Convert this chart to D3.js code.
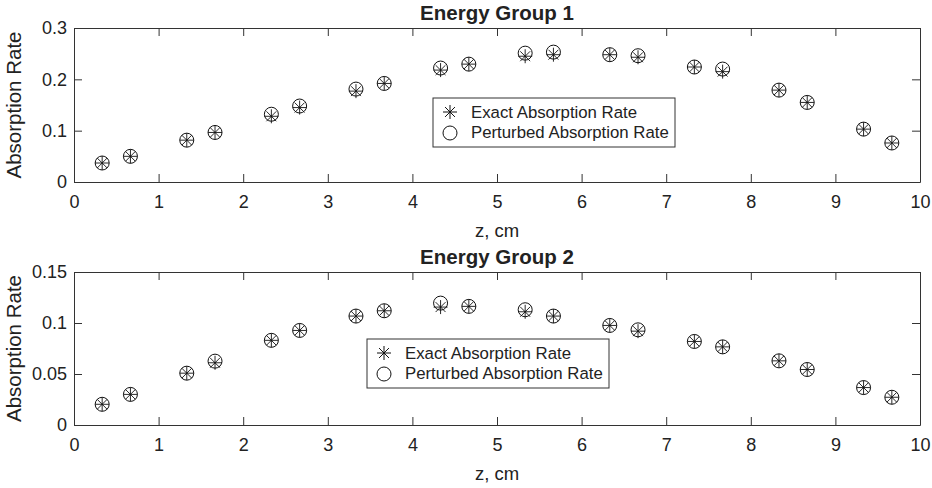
<!DOCTYPE html>
<html>
<head>
<meta charset="utf-8">
<script src="https://cdn.jsdelivr.net/npm/d3@7"></script>
<style>
  body { margin: 0; background: #fff; }
  text { font-family: "Liberation Sans", Arial, sans-serif; fill: #222; }
</style>
</head>
<body>
<script>
var width = 932, height = 488

// cell centres along z
var zPos = [0.333, 0.667, 1.333, 1.667, 2.333, 2.667, 3.333, 3.667, 4.333, 4.667,
            5.333, 5.667, 6.333, 6.667, 7.333, 7.667, 8.333, 8.667, 9.333, 9.667]

// group 1
var exact1 = [0.037, 0.050, 0.0815, 0.0965, 0.128, 0.145, 0.177, 0.192, 0.218, 0.2296,
              0.245, 0.248, 0.248, 0.243, 0.224, 0.215, 0.179, 0.155, 0.103, 0.076]
var pert1  = [0.037, 0.050, 0.0815, 0.0965, 0.132, 0.148, 0.181, 0.192, 0.222, 0.2296,
              0.251, 0.253, 0.248, 0.246, 0.224, 0.220, 0.179, 0.155, 0.103, 0.076]

// group 2
var exact2 = [0.0203, 0.030, 0.0508, 0.061, 0.083, 0.0927, 0.1068, 0.112, 0.1156, 0.1163,
              0.111, 0.1068, 0.0976, 0.092, 0.0819, 0.0766, 0.0629, 0.0544, 0.0367, 0.0272]
var pert2  = [0.0203, 0.030, 0.0508, 0.0626, 0.083, 0.0927, 0.1068, 0.112, 0.1195, 0.1163,
              0.113, 0.1068, 0.0976, 0.0933, 0.0819, 0.0766, 0.0629, 0.0544, 0.0367, 0.0272]

var xTicks = [0, 1, 2, 3, 4, 5, 6, 7, 8, 9, 10]
var yTicks1 = [0, 0.1, 0.2, 0.3]
var yTicks2 = [0, 0.05, 0.1, 0.15]
var legendLabels = ["Exact Absorption Rate", "Perturbed Absorption Rate"]

var svg = d3.select("body").append("svg")
  .attr("width", width)
  .attr("height", height)

var left = 74, right = 920

function panel(opts) {
  var x = d3.scaleLinear().domain([0, 10]).range([left, right])
  var y = d3.scaleLinear().domain(opts.yDomain).range([opts.bottom, opts.top])
  var g = svg.append("g")

  // axes box with ticks inside on all four sides
  g.append("g").attr("transform", "translate(0," + opts.bottom + ")")
    .call(d3.axisBottom(x).tickValues(xTicks).tickSizeInner(-8).tickSizeOuter(0).tickPadding(13).tickFormat(d3.format("d")))
  g.append("g").attr("transform", "translate(0," + opts.top + ")")
    .call(d3.axisTop(x).tickValues(xTicks).tickSizeInner(-8).tickSizeOuter(0).tickFormat(""))
  g.append("g").attr("transform", "translate(" + left + ",0)")
    .call(d3.axisLeft(y).tickValues(opts.yTicks).tickSizeInner(-8).tickSizeOuter(0).tickPadding(7).tickFormat(function(d) { return String(+d.toFixed(2)) }))
  g.append("g").attr("transform", "translate(" + right + ",0)")
    .call(d3.axisRight(y).tickValues(opts.yTicks).tickSizeInner(-8).tickSizeOuter(0).tickFormat(""))

  g.selectAll(".domain").attr("stroke", "#333").attr("stroke-width", 1)
  g.selectAll(".tick line").attr("stroke", "#333").attr("stroke-width", 1)
  g.selectAll(".tick text").style("font-size", "18px").attr("fill", "#222")

  // titles
  g.append("text").attr("x", (left + right) / 2).attr("y", opts.top - 8)
    .attr("text-anchor", "middle").style("font-size", "20.5px").style("font-weight", "bold")
    .text(opts.title)
  g.append("text").attr("x", (left + right) / 2).attr("y", opts.bottom + 55)
    .attr("text-anchor", "middle").style("font-size", "18.5px").text("z, cm")
  g.append("text")
    .attr("transform", "translate(21," + ((opts.top + opts.bottom) / 2) + ") rotate(-90)")
    .attr("text-anchor", "middle").style("font-size", "20.5px").text("Absorption Rate")

  // markers: circles (perturbed) then asterisks (exact)
  g.append("g").selectAll("circle")
    .data(opts.pert)
    .enter().append("circle")
    .attr("cx", function(d, i) { return x(zPos[i]) })
    .attr("cy", function(d) { return y(d) })
    .attr("r", 7)
    .attr("fill", "none").attr("stroke", "#111").attr("stroke-width", 1)

  g.append("g").selectAll("path")
    .data(opts.exact)
    .enter().append("path")
    .attr("transform", function(d, i) { return "translate(" + x(zPos[i]) + "," + y(d) + ")" })
    .attr("d", asterisk(7))
    .attr("fill", "none").attr("stroke", "#111").attr("stroke-width", 0.9)

  // legend
  var lg = g.append("g").attr("transform", "translate(" + opts.legendX + "," + opts.legendY + ")")
  lg.append("rect").attr("width", 242).attr("height", 49)
    .attr("fill", "#fff").attr("stroke", "#333").attr("stroke-width", 1)
  lg.append("path").attr("transform", "translate(17,14)").attr("d", asterisk(7))
    .attr("fill", "none").attr("stroke", "#111")
  lg.append("circle").attr("cx", 17).attr("cy", 35).attr("r", 7)
    .attr("fill", "none").attr("stroke", "#111")
  lg.selectAll("text.lbl")
    .data(legendLabels)
    .enter().append("text").attr("class", "lbl")
    .attr("x", 38).attr("y", function(d, i) { return 20 + i * 20 })
    .style("font-size", "16.8px")
    .text(function(d) { return d })
}

function asterisk(r) {
  var d = "M0," + (-r) + "L0," + r + "M" + (-r) + ",0L" + r + ",0"
  var k = r * 0.7071
  d += "M" + (-k) + "," + (-k) + "L" + k + "," + k + "M" + (-k) + "," + k + "L" + k + "," + (-k)
  return d
}

panel({ top: 28, bottom: 182, yDomain: [0, 0.3], yTicks: yTicks1, title: "Energy Group 1",
        exact: exact1, pert: pert1, legendX: 433, legendY: 98 })
panel({ top: 272, bottom: 425, yDomain: [0, 0.15], yTicks: yTicks2, title: "Energy Group 2",
        exact: exact2, pert: pert2, legendX: 367, legendY: 339 })
</script>
</body>
</html>
